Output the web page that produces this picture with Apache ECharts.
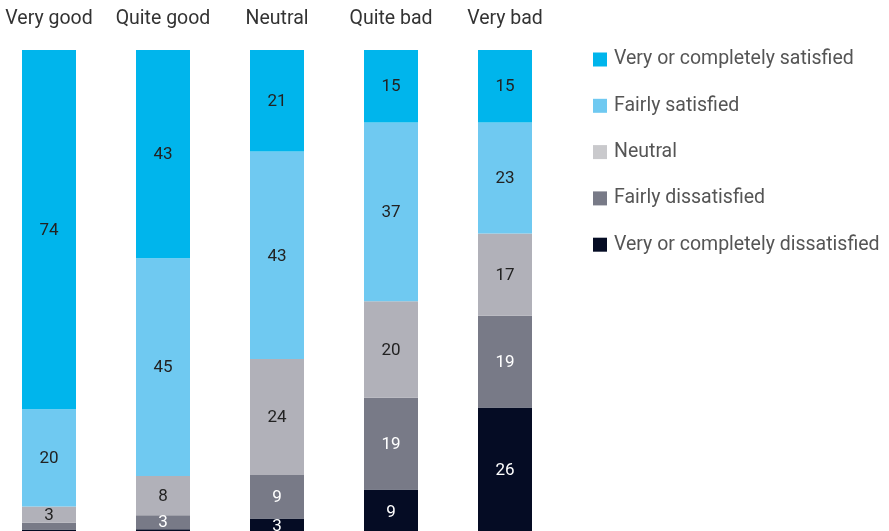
<!DOCTYPE html>
<html><head><meta charset="utf-8">
<script src="https://cdn.jsdelivr.net/npm/echarts@6/dist/echarts.min.js"></script>
<style>html,body{margin:0;padding:0;background:#fff}#c{width:889px;height:531px}</style>
</head><body><div id="c"></div>
<script>
const categories = ["Very good", "Quite good", "Neutral", "Quite bad", "Very bad"];
const seriesNames = ["Very or completely dissatisfied", "Fairly dissatisfied", "Neutral", "Fairly satisfied", "Very or completely satisfied"];
const veryDissatisfied = [0.7, 0.8, 3, 9, 26];
const fairlyDissatisfied = [1.4, 2.9, 9, 19, 19];
const neutral = [3.4, 8.1, 24, 20, 17];
const fairlySatisfied = [20.1, 45.1, 43, 37, 23];
const verySatisfied = [74.4, 43.1, 21, 15, 15];

const values = [veryDissatisfied, fairlyDissatisfied, neutral, fairlySatisfied, verySatisfied];
const colors = ["#050c24", "#787a87", "#b1b1b9", "#6fc9f1", "#00b5ec"];
const legendColors = ["#050c24", "#787a87", "#c9c9cc", "#6fc9f1", "#00b5ec"];
const labelColors = ["#ffffff", "#ffffff", "#222222", "#222222", "#222222"];

const chart = echarts.init(document.getElementById('c'));
chart.setOption({
  animation: false,
  textStyle: { fontFamily: 'Roboto, "Liberation Sans", sans-serif' },
  grid: { left: -8, width: 570, top: 50, height: 483, outerBoundsMode: 'none', containLabel: false },
  legend: {
    orient: 'vertical', left: 588, top: 44.5,
    itemWidth: 14, itemHeight: 14, itemGap: 26.3,
    icon: 'rect',
    data: seriesNames.slice().reverse().map((n) => ({
      name: n,
      itemStyle: { color: legendColors[seriesNames.indexOf(n)] }
    })),
    textStyle: { fontSize: 19.5, lineHeight: 20, color: '#555', padding: [0, 0, 0, 2] }
  },
  xAxis: {
    type: 'category', data: categories, position: 'top',
    axisLine: { show: false }, axisTick: { show: false },
    axisLabel: { fontSize: 19.5, color: '#333', margin: 20.5, interval: 0 }
  },
  yAxis: { type: 'value', min: 0, max: 100, show: false },
  series: seriesNames.map((n, i) => ({
    name: n, type: 'bar', stack: 'total', barWidth: 54,
    data: values[i],
    itemStyle: { color: colors[i] },
    label: {
      show: true, position: 'inside', fontSize: 17, color: labelColors[i], offset: [0, 1],
      formatter: (p) => (p.value >= 2.5 ? Math.round(p.value) : '')
    }
  }))
});
</script></body></html>
